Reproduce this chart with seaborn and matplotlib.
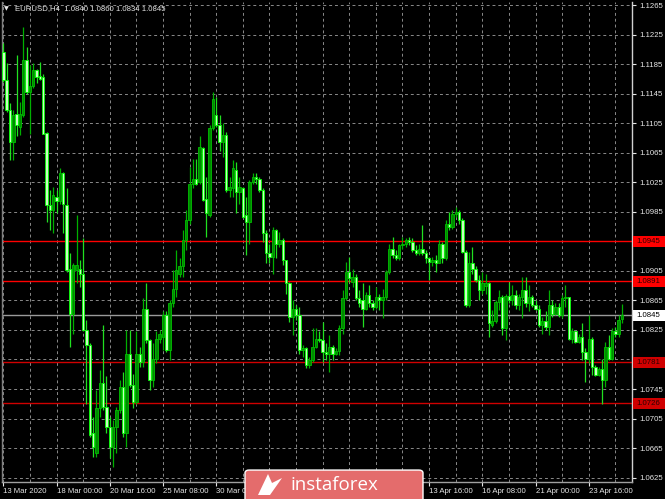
import numpy as np
import seaborn as sns
import matplotlib.pyplot as plt
from matplotlib.patches import FancyBboxPatch, Rectangle, Polygon
import matplotlib.transforms as mtransforms

sns.set_theme(style="dark", rc={"axes.facecolor": "black", "figure.facecolor": "black"})
plt.rcParams['font.family'] = ['Liberation Sans', 'DejaVu Sans']

# EURUSD H4 candles, 13 Mar 2020 .. 27 Apr 2020
opens = [
    1.1202, 1.1163, 1.1123, 1.1080, 1.1118, 1.1100, 1.1116, 1.1190,
    1.1147, 1.1156, 1.1177, 1.1169, 1.1168, 1.1092, 1.0994, 1.0987,
    1.1005, 1.0999, 1.1037, 1.0994, 1.0908, 1.0847, 1.0906, 1.0908,
    1.0901, 1.0825, 1.0804, 1.0685, 1.0658, 1.0719, 1.0753, 1.0721,
    1.0694, 1.0667, 1.0694, 1.0716, 1.0748, 1.0685, 1.0793, 1.0750,
    1.0728, 1.0793, 1.0782, 1.0854, 1.0811, 1.0757, 1.0786, 1.0813,
    1.0816, 1.0845, 1.0798, 1.0861, 1.0881, 1.0901, 1.0911, 1.0947,
    1.0974, 1.1023, 1.1030, 1.1026, 1.1071, 1.1003, 1.0980, 1.1098,
    1.1116, 1.1102, 1.1080, 1.1089, 1.1014, 1.1017, 1.1041, 1.1012,
    1.1017, 1.0980, 1.0971, 1.1026, 1.1032, 1.1030, 1.1014, 1.0956,
    1.0929, 1.0924, 1.0960, 1.0942, 1.0947, 1.0920, 1.0888, 1.0843,
    1.0854, 1.0845, 1.0798, 1.0800, 1.0777, 1.0784,
    1.0802, 1.0813, 1.0811, 1.0795, 1.0793, 1.0802, 1.0793, 1.0797,
    1.0827, 1.0868, 1.0904, 1.0890, 1.0897, 1.0868, 1.0865, 1.0854,
    1.0872, 1.0861, 1.0856, 1.0870, 1.0865, 1.0869, 1.0904, 1.0935,
    1.0926, 1.0922, 1.0940, 1.0942, 1.0947, 1.0944, 1.0933, 1.0929,
    1.0934, 1.0929, 1.0922, 1.0917, 1.0920, 1.0916, 1.0942, 1.0922,
    1.0969, 1.0965, 1.0982, 1.0985, 1.0974, 1.0931, 1.0859,
    1.0915, 1.0908, 1.0892, 1.0879, 1.0884, 1.0888, 1.0832, 1.0837,
    1.0863, 1.0870, 1.0827, 1.0871, 1.0865, 1.0872, 1.0859, 1.0870,
    1.0879, 1.0861, 1.0870, 1.0859, 1.0854, 1.0832, 1.0837, 1.0829,
    1.0859, 1.0846, 1.0856, 1.0845, 1.0868, 1.0869, 1.0813, 1.0823,
    1.0809, 1.0816, 1.0795, 1.0786, 1.0813, 1.0775, 1.0764, 1.0772,
    1.0757, 1.0802, 1.0786, 1.0823, 1.0819, 1.0840,
]
highs = [
    1.1213, 1.1186, 1.1132, 1.1123, 1.1197, 1.1134, 1.1235, 1.1208,
    1.1184, 1.1186, 1.1179, 1.1188, 1.1172, 1.1093, 1.1014, 1.1019,
    1.1014, 1.1044, 1.1039, 1.1017, 1.0929, 1.0915, 1.0980, 1.0920,
    1.0949, 1.0838, 1.0807, 1.0707, 1.0744, 1.0771, 1.0832, 1.0762,
    1.0707, 1.0703, 1.0721, 1.0757, 1.0768, 1.0825, 1.0825, 1.0766,
    1.0823, 1.0802, 1.0868, 1.0888, 1.0813, 1.0807, 1.0823, 1.0825,
    1.0850, 1.0850, 1.0865, 1.0906, 1.0933, 1.0922, 1.0960, 1.0987,
    1.1046, 1.1057, 1.1057, 1.1087, 1.1073, 1.1032, 1.1102, 1.1147,
    1.1141, 1.1116, 1.1105, 1.1093, 1.1032, 1.1055, 1.1053, 1.1032,
    1.1019, 1.1005, 1.1028, 1.1037, 1.1037, 1.1032, 1.1017, 1.0960,
    1.0942, 1.0965, 1.0962, 1.0958, 1.0949, 1.0920, 1.0890, 1.0865,
    1.0859, 1.0856, 1.0804, 1.0802, 1.0789, 1.0827,
    1.0827, 1.0823, 1.0836, 1.0807, 1.0818, 1.0804, 1.0800, 1.0832,
    1.0879, 1.0917, 1.0924, 1.0908, 1.0901, 1.0879, 1.0888, 1.0877,
    1.0886, 1.0865, 1.0883, 1.0874, 1.0881, 1.0906, 1.0942, 1.0951,
    1.0933, 1.0942, 1.0951, 1.0949, 1.0951, 1.0949, 1.0940, 1.0942,
    1.0967, 1.0933, 1.0924, 1.0924, 1.0926, 1.0947, 1.0944, 1.0974,
    1.0985, 1.0987, 1.0992, 1.0987, 1.0976, 1.0933, 1.0931,
    1.0938, 1.0911, 1.0899, 1.0904, 1.0901, 1.0890, 1.0852, 1.0865,
    1.0879, 1.0872, 1.0874, 1.0890, 1.0886, 1.0879, 1.0874, 1.0897,
    1.0897, 1.0886, 1.0872, 1.0865, 1.0859, 1.0843, 1.0850, 1.0879,
    1.0865, 1.0861, 1.0861, 1.0872, 1.0886, 1.0870, 1.0827, 1.0823,
    1.0820, 1.0834, 1.0800, 1.0845, 1.0816, 1.0777, 1.0775, 1.0786,
    1.0809, 1.0818, 1.0827, 1.0829, 1.0845, 1.0860,
]
lows = [
    1.1161, 1.1120, 1.1055, 1.1055, 1.1087, 1.1089, 1.1114, 1.1145,
    1.1091, 1.1152, 1.1159, 1.1163, 1.1090, 1.0971, 1.0960, 1.0956,
    1.0983, 1.0996, 1.0956, 1.0904, 1.0802, 1.0820, 1.0888, 1.0883,
    1.0823, 1.0725, 1.0680, 1.0653, 1.0653, 1.0707, 1.0716, 1.0685,
    1.0651, 1.0640, 1.0658, 1.0712, 1.0680, 1.0667, 1.0748, 1.0719,
    1.0725, 1.0775, 1.0775, 1.0807, 1.0744, 1.0748, 1.0780, 1.0807,
    1.0798, 1.0795, 1.0784, 1.0856, 1.0870, 1.0897, 1.0897, 1.0933,
    1.0969, 1.1017, 1.1021, 1.1023, 1.0999, 1.0951, 1.0978, 1.1096,
    1.1100, 1.1068, 1.1059, 1.1012, 1.1005, 1.1005, 1.0983, 1.0996,
    1.0976, 1.0926, 1.0942, 1.1023, 1.1023, 1.1012, 1.0944, 1.0915,
    1.0915, 1.0901, 1.0922, 1.0938, 1.0913, 1.0874, 1.0836, 1.0818,
    1.0838, 1.0793, 1.0789, 1.0773, 1.0773, 1.0782,
    1.0800, 1.0809, 1.0782, 1.0784, 1.0768, 1.0784, 1.0791, 1.0791,
    1.0820, 1.0865, 1.0890, 1.0883, 1.0865, 1.0856, 1.0829, 1.0852,
    1.0856, 1.0852, 1.0854, 1.0852, 1.0841, 1.0865, 1.0901, 1.0922,
    1.0920, 1.0920, 1.0935, 1.0938, 1.0940, 1.0931, 1.0926, 1.0926,
    1.0926, 1.0915, 1.0892, 1.0911, 1.0904, 1.0915, 1.0915, 1.0920,
    1.0960, 1.0962, 1.0978, 1.0969, 1.0929, 1.0856, 1.0856,
    1.0901, 1.0890, 1.0865, 1.0874, 1.0874, 1.0816, 1.0829, 1.0834,
    1.0852, 1.0818, 1.0811, 1.0861, 1.0859, 1.0854, 1.0852, 1.0841,
    1.0856, 1.0850, 1.0856, 1.0852, 1.0829, 1.0820, 1.0825, 1.0818,
    1.0843, 1.0845, 1.0843, 1.0841, 1.0856, 1.0811, 1.0807, 1.0807,
    1.0807, 1.0784, 1.0755, 1.0780, 1.0764, 1.0762, 1.0762, 1.0725,
    1.0748, 1.0784, 1.0784, 1.0816, 1.0816, 1.0834,
]
closes = [
    1.1163, 1.1123, 1.1080, 1.1116, 1.1102, 1.1118, 1.1190, 1.1147,
    1.1156, 1.1177, 1.1168, 1.1165, 1.1091, 1.0994, 1.0987, 1.1008,
    1.0999, 1.1037, 1.0996, 1.0906, 1.0847, 1.0913, 1.0913, 1.0901,
    1.0825, 1.0804, 1.0683, 1.0667, 1.0719, 1.0753, 1.0721, 1.0694,
    1.0667, 1.0694, 1.0716, 1.0748, 1.0685, 1.0793, 1.0750, 1.0728,
    1.0793, 1.0782, 1.0854, 1.0811, 1.0757, 1.0786, 1.0813, 1.0820,
    1.0845, 1.0798, 1.0861, 1.0881, 1.0906, 1.0911, 1.0947, 1.0974,
    1.1023, 1.1030, 1.1023, 1.1073, 1.1001, 1.0983, 1.1098, 1.1138,
    1.1102, 1.1080, 1.1089, 1.1014, 1.1019, 1.1044, 1.1012, 1.1019,
    1.0978, 1.0971, 1.1026, 1.1032, 1.1030, 1.1014, 1.0956, 1.0929,
    1.0924, 1.0960, 1.0942, 1.0947, 1.0920, 1.0888, 1.0843, 1.0854,
    1.0845, 1.0798, 1.0800, 1.0777, 1.0784, 1.0802,
    1.0813, 1.0811, 1.0795, 1.0793, 1.0802, 1.0793, 1.0797, 1.0827,
    1.0868, 1.0904, 1.0895, 1.0897, 1.0868, 1.0861, 1.0854, 1.0872,
    1.0861, 1.0856, 1.0870, 1.0865, 1.0869, 1.0904, 1.0935, 1.0926,
    1.0922, 1.0940, 1.0942, 1.0947, 1.0944, 1.0933, 1.0929, 1.0934,
    1.0929, 1.0922, 1.0917, 1.0920, 1.0916, 1.0942, 1.0922, 1.0969,
    1.0965, 1.0982, 1.0985, 1.0974, 1.0931, 1.0859, 1.0915,
    1.0908, 1.0892, 1.0879, 1.0888, 1.0888, 1.0834, 1.0837, 1.0863,
    1.0870, 1.0827, 1.0871, 1.0865, 1.0872, 1.0859, 1.0870, 1.0879,
    1.0861, 1.0870, 1.0859, 1.0854, 1.0832, 1.0837, 1.0829, 1.0859,
    1.0846, 1.0856, 1.0845, 1.0868, 1.0869, 1.0813, 1.0823, 1.0809,
    1.0816, 1.0795, 1.0786, 1.0813, 1.0775, 1.0764, 1.0772, 1.0757,
    1.0802, 1.0786, 1.0823, 1.0819, 1.0838, 1.0845,
]

# right scale labels (1.0785 and 1.0945 are covered by level tags)
price_ticks = [1.0625, 1.0665, 1.0705, 1.0745, 1.0785, 1.0825, 1.0865, 1.0905,
               1.0945, 1.0985, 1.1025, 1.1065, 1.1105, 1.1145, 1.1185, 1.1225, 1.1265]
hidden_ticks = [1.0785, 1.0945]
# time labels every 16 bars; the ones under the logo are left out
date_labels = ["13 Mar 2020", "18 Mar 00:00", "20 Mar 16:00", "25 Mar 08:00",
               "30 Mar 00:00", "", "", "",
               "13 Apr 16:00", "16 Apr 08:00", "21 Apr 00:00", "23 Apr 16:00"]
levels = [1.0945, 1.0891, 1.0781, 1.0726]
level_colors = ["#ff0000", "#ff0000", "#d00000", "#d00000"]
last_price = 1.0845
header = "EURUSD,H4  1.0840 1.0860 1.0834 1.0845"

o = np.array(opens); h = np.array(highs); l = np.array(lows); c = np.array(closes)
x = np.arange(len(o))
bull = c >= o

fig = plt.figure(figsize=(6.65, 4.99), dpi=100)
fig.patch.set_facecolor("black")
ax = fig.add_axes([2 / 665, 17 / 499, 630 / 665, 480 / 499])
ax.set_facecolor("black")

# grid
grid_kw = dict(color="#8a8a8a", lw=0.7, ls=(0, (3, 3)), zorder=1)
for p in price_ticks:
    ax.axhline(p, **grid_kw)
for gx in np.arange(0, 192, 8):
    ax.axvline(gx, **grid_kw)

# levels and current price
for lv, col in zip(levels, level_colors):
    ax.axhline(lv, color=col, lw=1.0, zorder=2)
ax.axhline(last_price, color="#9a9a9a", lw=1.0, zorder=2)

# candles
wick_col = np.where(bull, "#00b000", "#20e020")
ax.vlines(x, l, h, colors=wick_col, lw=0.9, zorder=3)
body = np.maximum(np.abs(c - o), 0.00008)
ax.bar(x, body, bottom=np.minimum(o, c), width=0.72,
       color=np.where(bull, "#008a00", "#c8ffc0"),
       edgecolor=np.where(bull, "#00c000", "#00ff00"), linewidth=0.6, zorder=4)

ax.set_xlim(-0.4, 189.0)
ax.set_ylim(1.06191, 1.12691)

ax.spines["top"].set_visible(False)
ax.spines["right"].set_color("#d0d0d0")
ax.spines["bottom"].set_color("#a0a0a0")
ax.spines["left"].set_color("#808080")
for s in ["right", "bottom", "left"]:
    ax.spines[s].set_linewidth(1.0)

ax.yaxis.tick_right()
ax.set_yticks(price_ticks)
ax.set_yticklabels(["" if p in hidden_ticks else f"{p:.4f}" for p in price_ticks])
ax.tick_params(axis="y", colors="#e6e6e6", labelsize=5.6, length=3, width=0.8,
               direction="out", pad=2, right=True, left=False, labelright=True, labelleft=False)
ax.set_xticks(np.arange(0, 192, 16))
ax.set_xticklabels(date_labels, ha="left")
ax.tick_params(axis="x", colors="#e6e6e6", labelsize=5.6, length=3, width=0.8,
               direction="out", pad=1.5, bottom=True)
ax.grid(False)

# level / price tags on the right
trans = mtransforms.blended_transform_factory(ax.transAxes, ax.transData)
half = 0.00075
for lv, col, tc in zip(levels + [last_price], level_colors + ["white"],
                       ["#2a0000"] * 4 + ["black"]):
    ax.add_patch(Rectangle((1.0016, lv - half), 0.05, 2 * half, transform=trans,
                           fc=col, ec="none", clip_on=False, zorder=9))
    ax.text(1.0075, lv, f"{lv:.4f}", transform=trans, ha="left", va="center",
            fontsize=5.6, color=tc, clip_on=False, zorder=10)

# header
fig.text(4 / 665, 1 - 9 / 499, "▼", color="#e6e6e6", fontsize=4.5, va="center",
         family=["DejaVu Sans"])
fig.text(15 / 665, 1 - 9 / 499, header, color="#e6e6e6", fontsize=5.6, va="center")

# watermark
logo = FancyBboxPatch((245 / 665, -0.02), 178 / 665, 0.078,
                      boxstyle="round,pad=0,rounding_size=0.006",
                      transform=fig.transFigure, fc="#e46c6c", ec="white", lw=1.0, zorder=20)
fig.patches.append(logo)
icon = Polygon([(258 / 665, 1 - 495 / 499), (268 / 665, 1 - 474 / 499),
                (272 / 665, 1 - 483 / 499), (282 / 665, 1 - 478 / 499),
                (270 / 665, 1 - 495 / 499)],
               closed=True, transform=fig.transFigure, fc="white", ec="none", zorder=21)
fig.patches.append(icon)
fig.text(290 / 665, 1 - 485 / 499, "instaforex", color="white", fontsize=13.5,
         va="center", ha="left", zorder=21, family=["Open Sans", "DejaVu Sans"])

fig.savefig("out.png", dpi=100, facecolor="black")
